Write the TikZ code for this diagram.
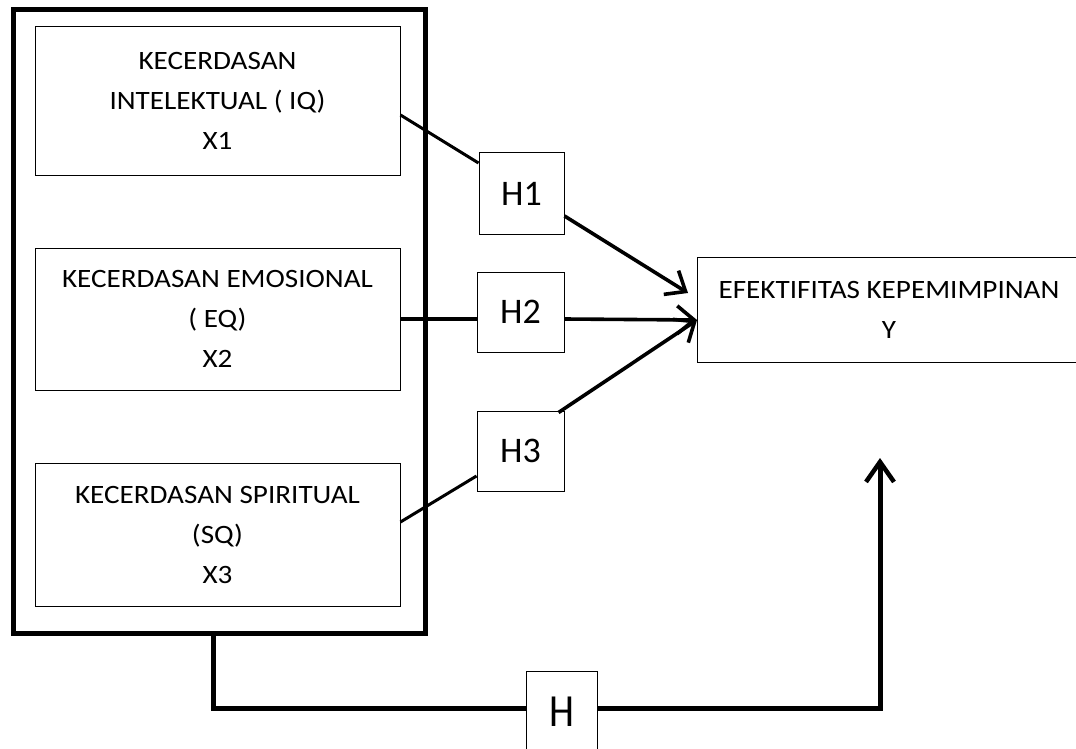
\documentclass[tikz,border=0pt]{standalone}
\usepackage{fontspec}
\setmainfont{Carlito}
\usetikzlibrary{arrows.meta}
\newcommand{\sx}[1]{\scalebox{1.1}[1]{#1}}
\begin{document}
\begin{tikzpicture}[x=1pt,y=-1pt,
  varbox/.style={draw, line width=1pt, inner sep=0pt, align=center,
    font=\fontsize{26.5}{40}\selectfont},
  hbox/.style={draw, line width=1pt, inner sep=0pt, font=\fontsize{36}{40}\selectfont},
  thinconn/.style={line width=3pt},
  arrconn/.style={line width=3.6pt, -{Straight Barb[length=17pt,width=28pt,line width=3.6pt]}},
  thickconn/.style={line width=5pt},
]
\useasboundingbox (0,0) rectangle (1076,749);
\clip (0,0) rectangle (1076,749);

% outer frame
\node[draw, line width=5pt, minimum width=412pt, minimum height=623pt, inner sep=0pt] (frame) at (219,321.5) {};

% variable boxes
\node[varbox, minimum width=365pt, minimum height=148pt] (b1) at (217.5,101)
  {\sx{KECERDASAN}\\\sx{INTELEKTUAL ( IQ)}\\\sx{X1}};
\node[varbox, minimum width=365pt, minimum height=142pt] (b2) at (217.5,319)
  {\sx{KECERDASAN EMOSIONAL}\\\sx{( EQ)}\\\sx{X2}};
\node[varbox, minimum width=365pt, minimum height=143pt] (b3) at (217.5,534.5)
  {\sx{KECERDASAN SPIRITUAL}\\\sx{(SQ)}\\\sx{X3}};

% dependent variable
\node[varbox, minimum width=384pt, minimum height=105pt] (y) at (889,309.5)
  {\sx{EFEKTIFITAS KEPEMIMPINAN}\\\sx{Y}};

% hypothesis boxes
\node[hbox, minimum width=85pt, minimum height=81pt] (h1) at (521.5,193.5) {H1};
\node[hbox, minimum width=87pt, minimum height=80pt] (h2) at (520.5,312) {H2};
\node[hbox, minimum width=87pt, minimum height=80pt] (h3) at (520.5,451) {H3};
\node[draw, line width=1pt, inner sep=0pt, minimum width=71pt, minimum height=82pt,
  font=\fontsize{40}{40}\selectfont] (h) at (561.5,712) {\scalebox{1}[1.15]{H}};

\coordinate (t1) at (688,293);
\coordinate (t2) at (697,320);
\coordinate (bend) at (213,708);
\coordinate (corner) at (880,708);
\coordinate (t3) at (880,458);

% connectors
\draw[thinconn] ([yshift=-14pt]b1.east) -- ([yshift=30.5pt]h1.west);
\draw[arrconn] ([yshift=-22.5pt]h1.east) -- (t1);
\draw[line width=3.6pt] (b2.east) -- (b2.east -| h2.west);
\draw[arrconn] ([yshift=-7pt]h2.east) -- (t2);
\draw[thinconn] ([yshift=12.5pt]b3.east) -- ([yshift=-25pt]h3.west);
\draw[arrconn] ([xshift=-6pt,yshift=-2pt]h3.north east) -- (t2);

\draw[thickconn] (frame.south -| bend) -- (bend) -- (h.west |- bend);
\draw[thickconn] (h.east |- corner) -- ([xshift=3pt]corner);
\draw[thickconn, -{Straight Barb[length=20pt,width=28pt,line width=4.5pt]}] (corner) -- (t3);
\end{tikzpicture}
\end{document}
